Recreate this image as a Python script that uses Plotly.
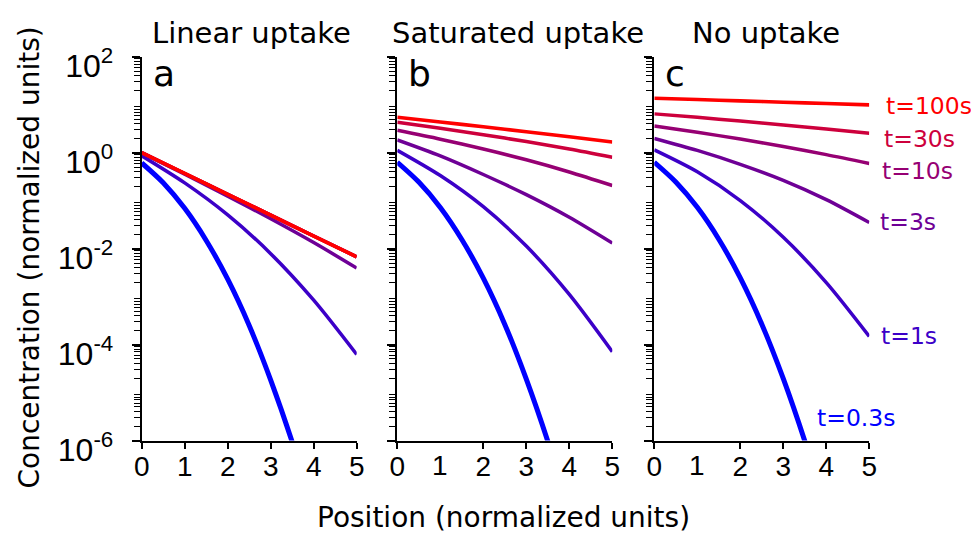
import plotly.graph_objects as go

W, H = 971, 539

# ---- data -------------------------------------------------------------
labels = ["t=0.3s", "t=1s", "t=3s", "t=10s", "t=30s", "t=100s"]
colors = ["rgb(0,0,255)", "rgb(60,0,200)", "rgb(110,0,150)",
          "rgb(150,0,115)", "rgb(205,0,60)", "rgb(255,0,0)"]
widths = [5, 3.5, 3.5, 3.5, 3.5, 3.6]

x_fine = [0, 0.5, 1, 1.5, 2, 2.5, 3, 3.5, 4]   # used for the steep t=0.3s curve
x_pos = [0, 1, 2, 3, 4, 5]

# a: linear uptake
lin_t03 = [0.61, 0.236, 0.069, 0.0148, 0.0023, 2.5e-4, 1.82e-5, 9.3e-7, 3.2e-8]
lin_t1 = [0.86, 0.234, 0.0504, 0.00785, 8.4e-4, 6.2e-5]
lin_t3 = [0.986, 0.354, 0.1244, 0.0419, 0.01338, 0.00392]
lin_t10 = [1.0, 0.368, 0.1353, 0.0498, 0.0183, 0.00673]
lin_t30 = [1.0, 0.368, 0.1353, 0.0498, 0.0183, 0.00674]
lin_t100 = [1.0, 0.368, 0.1353, 0.0498, 0.0183, 0.00674]

# b: saturated uptake
sat_t03 = [0.63, 0.244, 0.072, 0.0155, 0.00242, 2.63e-4, 1.9e-5, 9.6e-7, 3.3e-8]
sat_t1 = [1.12, 0.333, 0.0746, 0.0113, 0.00111, 7.1e-5]
sat_t3 = [1.84, 0.855, 0.350, 0.133, 0.0449, 0.0130]
sat_t10 = [2.92, 1.91, 1.19, 0.71, 0.396, 0.207]
sat_t30 = [4.30, 3.23, 2.37, 1.70, 1.19, 0.80]
sat_t100 = [5.46, 4.36, 3.46, 2.73, 2.14, 1.67]

# c: no uptake
no_t03 = [0.63, 0.245, 0.0725, 0.0157, 0.00245, 2.66e-4, 1.94e-5, 9.7e-7, 3.4e-8]
no_t1 = [1.14, 0.399, 0.1005, 0.0172, 0.00196, 1.48e-4]
no_t3 = [1.98, 1.115, 0.572, 0.265, 0.105, 0.035]
no_t10 = [3.6, 2.66, 1.92, 1.34, 0.91, 0.595]
no_t30 = [6.43, 5.44, 4.56, 3.78, 3.11, 2.55]
no_t100 = [13.6, 12.8, 12.0, 11.25, 10.55, 9.9]

panel_titles = ["Linear uptake", "Saturated uptake", "No uptake"]
panel_letters = ["a", "b", "c"]
y_tickvals = [1e-6, 1e-4, 1e-2, 1, 1e2]
y_ticktext = ["10<sup>-6</sup>", "10<sup>-4</sup>", "10<sup>-2</sup>",
              "10<sup>0</sup>", "10<sup>2</sup>"]
x_ticks = [0, 1, 2, 3, 4, 5]

panels = [
    [lin_t03, lin_t1, lin_t3, lin_t10, lin_t30, lin_t100],
    [sat_t03, sat_t1, sat_t3, sat_t10, sat_t30, sat_t100],
    [no_t03, no_t1, no_t3, no_t10, no_t30, no_t100],
]

# minor tick positions of the log axis: 2..9 in every decade
minor_vals = [m * 10.0 ** e for e in range(-6, 2) for m in range(2, 10)]

# ---- layout helpers (pixel -> paper) ----------------------------------
def px(p):
    return p / W


def py(p):
    return 1 - p / H


left_px = [141.7, 397.3, 654.3]
panel_w = 215.0
top_px, bottom_px = 56.7, 440.5

TICK_FAMILY = "Liberation Sans, Arial, sans-serif"
TICK_FONT = dict(family=TICK_FAMILY, size=28, color="black")
TEXT_FONT = "DejaVu Sans, Verdana, sans-serif"

fig = go.Figure()

for p, series in enumerate(panels):
    xa = "x" if p == 0 else f"x{p + 1}"
    ya = "y" if p == 0 else f"y{p + 1}"
    for i, vals in enumerate(series):
        xs = x_fine if i == 0 else x_pos
        fig.add_trace(go.Scatter(
            x=xs, y=vals, mode="lines", xaxis=xa, yaxis=ya,
            line=dict(color=colors[i], width=widths[i], shape="spline", smoothing=0.8),
            name=labels[i], showlegend=False, hoverinfo="skip",
        ))

common_x = dict(range=[0, 5], showline=True, linecolor="black", linewidth=2,
                ticks="outside", ticklen=6, tickwidth=2, tickcolor="black",
                showgrid=False, zeroline=False, tickfont=TICK_FONT,
                ticklabelstandoff=-6, automargin=False, fixedrange=True)
common_y = dict(type="log", range=[-6, 2], showline=True, linecolor="black",
                linewidth=2, ticks="outside", ticklen=8, tickwidth=2,
                tickcolor="black", showgrid=False, zeroline=False,
                tickmode="array", tickvals=y_tickvals, ticktext=y_ticktext,
                tickfont=dict(family=TICK_FAMILY, size=32, color="black"),
                minor=dict(tickmode="array", tickvals=minor_vals, ticks="outside",
                           ticklen=6, tickwidth=1.3, tickcolor="black",
                           showgrid=False),
                domain=[py(bottom_px), py(top_px)], automargin=False,
                fixedrange=True)

layout = dict(width=W, height=H, margin=dict(l=0, r=0, t=0, b=0, autoexpand=False),
              paper_bgcolor="white", plot_bgcolor="white", showlegend=False)

for p in range(3):
    xk = "xaxis" if p == 0 else f"xaxis{p + 1}"
    yk = "yaxis" if p == 0 else f"yaxis{p + 1}"
    xa = dict(common_x)
    xa["domain"] = [px(left_px[p]), px(left_px[p] + panel_w)]
    xa["anchor"] = "y" if p == 0 else f"y{p + 1}"
    xa["tickmode"] = "array"
    xa["tickvals"] = x_ticks if p == 0 else [v for v in x_ticks if v != 1]
    ya = dict(common_y)
    ya["anchor"] = "x" if p == 0 else f"x{p + 1}"
    ya["showticklabels"] = p == 0
    ya["ticklabelshift"] = 9
    ya["ticklabelstandoff"] = 12
    layout[xk] = xa
    layout[yk] = ya

fig.update_layout(**layout)

ann = []
title_cx = [251, 517.5, 766.4]
for p in range(3):
    ann.append(dict(text=panel_titles[p], x=px(title_cx[p]), y=py(33),
                    xref="paper", yref="paper", xanchor="center", yanchor="middle",
                    showarrow=False, font=dict(family=TEXT_FONT, size=29, color="black")))
    ann.append(dict(text=panel_letters[p], x=px(left_px[p] + 9), y=py(74),
                    xref="paper", yref="paper", xanchor="left", yanchor="middle",
                    showarrow=False, font=dict(family=TEXT_FONT, size=36, color="black")))

# tick label "1" on panels b and c, which carry no tick mark there
for xr in ("x2", "x3"):
    ann.append(dict(text="1", x=1, y=py(465), xref=xr, yref="paper",
                    xanchor="center", yanchor="middle", showarrow=False,
                    font=TICK_FONT))

# curve labels next to panel c
label_pos = [(815, 418), (879, 336), (878, 222), (880, 171), (882, 139), (884, 106)]
for i, (lx, ly) in enumerate(label_pos):
    ann.append(dict(text=labels[i], x=px(lx), y=py(ly), xref="paper", yref="paper",
                    xanchor="left", yanchor="middle", showarrow=False,
                    font=dict(family=TEXT_FONT, size=23.5, color=colors[i])))

ann.append(dict(text="Concentration (normalized units)", x=px(28.5), y=py(258),
                xref="paper", yref="paper", xanchor="center", yanchor="middle",
                textangle=-90, showarrow=False,
                font=dict(family=TEXT_FONT, size=28, color="black")))
ann.append(dict(text="Position (normalized units)", x=px(503.5), y=py(517),
                xref="paper", yref="paper", xanchor="center", yanchor="middle",
                showarrow=False, font=dict(family=TEXT_FONT, size=28, color="black")))

fig.update_layout(annotations=ann)
fig.write_html("out.html")
